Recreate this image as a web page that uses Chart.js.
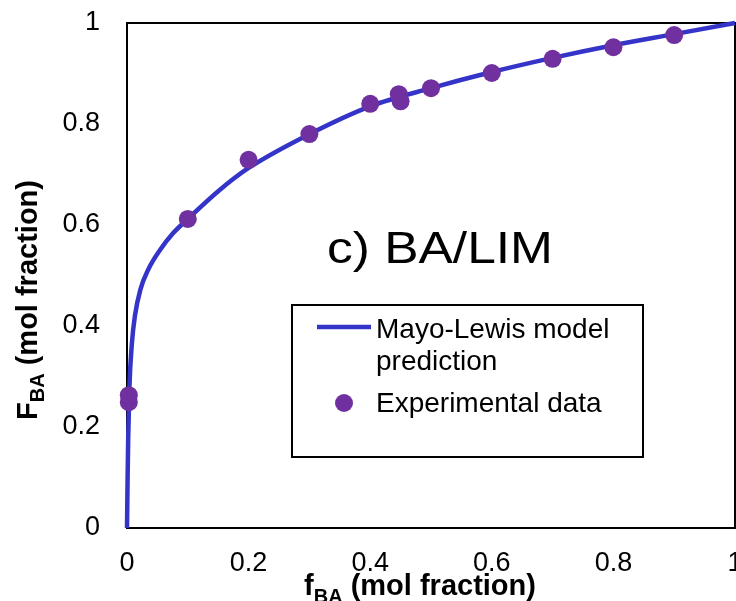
<!DOCTYPE html>
<html>
<head>
<meta charset="utf-8">
<title>BA/LIM copolymer composition</title>
<script src="https://cdn.jsdelivr.net/npm/chart.js@4"></script>
<style>
  html, body { margin: 0; padding: 0; background: #fff; overflow: hidden; }
  #wrap { width: 760px; height: 601px; }
</style>
</head>
<body>
<div id="wrap"><canvas id="compositionChart" width="760" height="601"></canvas></div>
<script>
// feed fraction of BA (f_BA) vs. copolymer fraction of BA (F_BA)
const expFeed = [0.003, 0.003, 0.1, 0.2, 0.3, 0.4, 0.447, 0.45, 0.5, 0.6, 0.7, 0.8, 0.9];
const expCopolymer = [0.249, 0.263, 0.612, 0.729, 0.780, 0.840, 0.859, 0.845, 0.871, 0.901, 0.929, 0.952, 0.976];

// Mayo-Lewis curve, sampled densely near f_BA = 0 where it rises steeply
const modelFeed = [0, 0.001, 0.002, 0.004, 0.008, 0.013, 0.022, 0.035, 0.054, 0.076, 0.1, 0.15, 0.2, 0.3, 0.4, 0.5, 0.6, 0.7, 0.8, 0.9, 1];
const modelCopolymer = [0, 0.10, 0.18, 0.28, 0.365, 0.42, 0.472, 0.512, 0.55, 0.584, 0.612, 0.667, 0.713, 0.78, 0.835, 0.871, 0.903, 0.931, 0.956, 0.978, 1];

const xTickLabels = ['0', '0.2', '0.4', '0.6', '0.8', '1'];
const yTickLabels = ['0', '0.2', '0.4', '0.6', '0.8', '1'];

const BLUE = '#3434c9';
const PURPLE = '#7030a0';
const FONT = '"Liberation Sans", Arial, Helvetica, sans-serif';

const expPoints = expFeed.map((f, i) => ({ x: f, y: expCopolymer[i] }));
const modelPoints = modelFeed.map((f, i) => ({ x: f, y: modelCopolymer[i] }));

// black frame round the plot area, under the data
const framePlugin = {
  id: 'frame',
  beforeDatasetsDraw(chart) {
    const { ctx, chartArea: a } = chart;
    ctx.save();
    ctx.strokeStyle = '#000';
    ctx.lineWidth = 2;
    ctx.strokeRect(a.left, a.top, a.right - a.left, a.bottom - a.top);
    ctx.restore();
  }
};

// centred text with a subscript after the first part
function drawSubscripted(ctx, main, sub, rest, mainSize, subSize, subDrop) {
  ctx.font = `bold ${mainSize}px ${FONT}`;
  const w1 = ctx.measureText(main).width;
  const w3 = ctx.measureText(rest).width;
  ctx.font = `bold ${subSize}px ${FONT}`;
  const w2 = ctx.measureText(sub).width;
  let x = -(w1 + w2 + w3) / 2;
  ctx.font = `bold ${mainSize}px ${FONT}`;
  ctx.fillText(main, x, 0);
  x += w1;
  ctx.font = `bold ${subSize}px ${FONT}`;
  ctx.fillText(sub, x, subDrop);
  x += w2;
  ctx.font = `bold ${mainSize}px ${FONT}`;
  ctx.fillText(rest, x, 0);
}

const labelsPlugin = {
  id: 'labels',
  afterDraw(chart) {
    const { ctx, chartArea: a } = chart;
    ctx.save();
    ctx.fillStyle = '#000';
    ctx.textAlign = 'left';
    ctx.textBaseline = 'alphabetic';

    // y axis title, rotated
    ctx.save();
    ctx.translate(a.left - 90, 300);
    ctx.rotate(-Math.PI / 2);
    drawSubscripted(ctx, 'F', 'BA', ' (mol fraction)', 29, 20, 7);
    ctx.restore();

    // x axis title
    ctx.save();
    ctx.translate(420, a.bottom + 67);
    drawSubscripted(ctx, 'f', 'BA', ' (mol fraction)', 29, 20, 8);
    ctx.restore();

    // panel tag
    ctx.save();
    ctx.translate(327, 263);
    ctx.scale(1.17, 1);
    ctx.font = `44px ${FONT}`;
    ctx.fillText('c) BA/LIM', 0, 0);
    ctx.restore();

    // legend box
    const lx = 292, ly = 305, lw = 351, lh = 152;
    ctx.fillStyle = '#fff';
    ctx.fillRect(lx, ly, lw, lh);
    ctx.strokeStyle = '#000';
    ctx.lineWidth = 2;
    ctx.strokeRect(lx, ly, lw, lh);

    ctx.strokeStyle = BLUE;
    ctx.lineWidth = 4.5;
    ctx.beginPath();
    ctx.moveTo(lx + 25, ly + 22);
    ctx.lineTo(lx + 79, ly + 22);
    ctx.stroke();

    ctx.fillStyle = PURPLE;
    ctx.beginPath();
    ctx.arc(lx + 52, ly + 98, 9, 0, Math.PI * 2);
    ctx.fill();

    ctx.fillStyle = '#000';
    ctx.font = `28px ${FONT}`;
    ctx.fillText('Mayo-Lewis model', lx + 84, ly + 33);
    ctx.fillText('prediction', lx + 84, ly + 65);
    ctx.fillText('Experimental data', lx + 84, ly + 107);
    ctx.restore();
  }
};

const canvas = document.getElementById('compositionChart');

new Chart(canvas, {
  type: 'scatter',
  data: {
    datasets: [
      {
        label: 'Experimental data',
        data: expPoints,
        backgroundColor: PURPLE,
        borderColor: PURPLE,
        pointRadius: 9,
        pointHoverRadius: 9,
        borderWidth: 0,
        order: 0,
        clip: false
      },
      {
        label: 'Mayo-Lewis model prediction',
        data: modelPoints,
        showLine: true,
        borderColor: BLUE,
        borderWidth: 4.5,
        pointRadius: 0,
        cubicInterpolationMode: 'monotone',
        order: 1,
        clip: false
      }
    ]
  },
  options: {
    responsive: false,
    animation: false,
    layout: { padding: { top: 23, right: 25, left: 0, bottom: 0 } },
    plugins: {
      legend: { display: false },
      tooltip: { enabled: false }
    },
    scales: {
      x: {
        type: 'linear',
        min: 0,
        max: 1,
        afterFit: scale => {
          scale.height = 73;
          scale.paddingLeft = 0;
          scale.paddingRight = 0;
        },
        grid: { display: false, drawTicks: false },
        border: { display: false },
        ticks: {
          stepSize: 0.2,
          padding: 19,
          maxRotation: 0,
          color: '#000',
          font: { family: FONT, size: 27 },
          callback: (v, i) => xTickLabels[i]
        }
      },
      y: {
        type: 'linear',
        min: 0,
        max: 1,
        afterFit: scale => {
          scale.width = 127;
          scale.paddingTop = 0;
          scale.paddingBottom = 0;
        },
        grid: { display: false, drawTicks: false },
        border: { display: false },
        ticks: {
          stepSize: 0.2,
          padding: 27,
          color: '#000',
          font: { family: FONT, size: 27 },
          callback: (v, i) => yTickLabels[i]
        }
      }
    }
  },
  plugins: [framePlugin, labelsPlugin]
});
</script>
</body>
</html>
